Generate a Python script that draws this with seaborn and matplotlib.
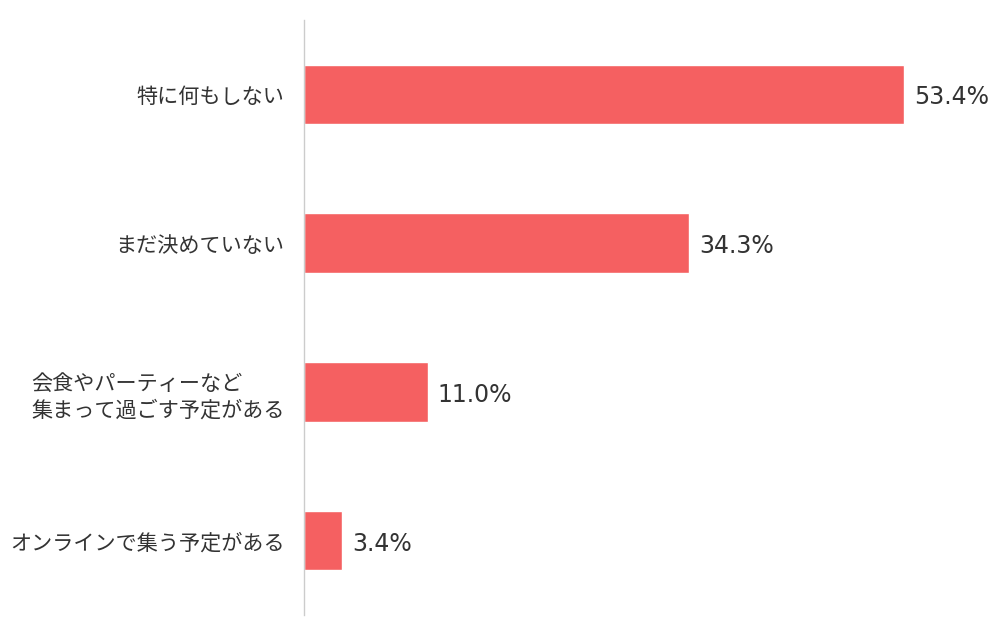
import pandas as pd
import matplotlib.pyplot as plt
import seaborn as sns

sns.set_theme(style="white")
plt.rcParams['font.family'] = ['Noto Sans CJK JP', 'DejaVu Sans']

categories = ["特に何もしない", "まだ決めていない", "会食やパーティーなど\n集まって過ごす予定がある", "オンラインで集う予定がある"]
values = [53.4, 34.3, 11.0, 3.4]

df = pd.DataFrame({"label": categories, "pct": values})

fig = plt.figure(figsize=(10, 6.37), dpi=100)
ax = fig.add_axes([0.304, 0.0345, 0.674, 0.934])

sns.barplot(data=df, x="pct", y="label", color="#F56061", saturation=1, width=0.4, ax=ax)

for p, v in zip(ax.patches, values):
    ax.text(p.get_width() + 0.9, p.get_y() + p.get_height() / 2 + 0.02, f"{v:.1f}%",
            va="center", ha="left", fontsize=17, color="#333333",
            family=["DejaVu Sans"])

ax.set_xlim(0, 60)
ax.set_ylim(3.5, -0.5)
ax.set_xlabel("")
ax.set_ylabel("")
ax.set_xticks([])
for s in ["top", "right", "bottom"]:
    ax.spines[s].set_visible(False)
ax.spines["left"].set_color("#cccccc")
ax.spines["left"].set_linewidth(1)
ax.tick_params(axis="y", length=0, pad=14, labelsize=15.2, labelcolor="#333333")
for t in ax.get_yticklabels():
    t.set_multialignment("left")
    t.set_linespacing(1.3)

fig.savefig("out.png")
